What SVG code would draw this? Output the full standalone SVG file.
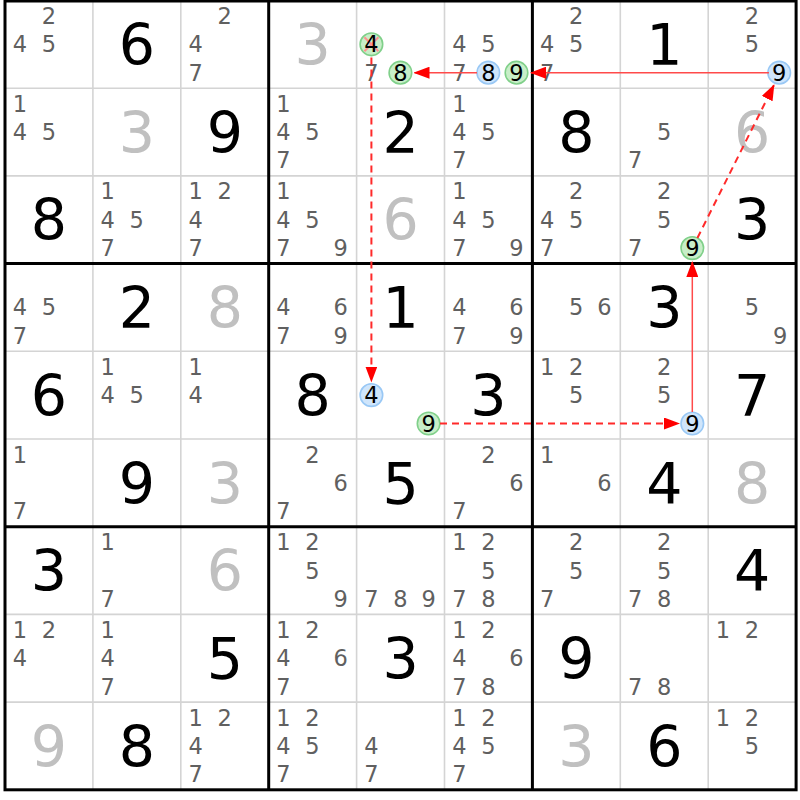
<svg xmlns="http://www.w3.org/2000/svg" width="800" height="800" viewBox="0 0 800 800">
<defs>
<style>
text{font-family:"DejaVu Sans","Verdana",sans-serif;text-anchor:middle}
.k{font-size:22.5px;fill:#606060}
.h{font-size:22.5px;fill:#000}
.g{font-size:57px;fill:#000}
.s{font-size:57px;fill:#c0c0c0}
.cg{fill:#c8eec8;stroke:#80d08a;stroke-width:1.6}
.cb{fill:#cfe5fb;stroke:#99c8f5;stroke-width:1.6}
.thin{stroke:#d4d4d4;stroke-width:1.6}
.thick{stroke:#000;stroke-width:3;fill:none}
.sol{stroke:#ff4a4a;stroke-width:1.5;fill:none}
.dsh{stroke:#ff2a2a;stroke-width:2;fill:none;stroke-dasharray:7,5}
</style>
<marker id="ah" viewBox="0 0 16 12" refX="15" refY="6" markerWidth="16" markerHeight="12" markerUnits="userSpaceOnUse" orient="auto">
<path d="M0,0 L16,6 L0,12 z" fill="#ff0000"/>
</marker>
</defs>
<rect x="0" y="0" width="800" height="800" fill="#fff"/>
<g id="grid">
<path class="thin" d="M92.9,0.5V789.8M180.8,0.5V789.8M356.6,0.5V789.8M444.5,0.5V789.8M620.3,0.5V789.8M708.2,0.5V789.8M5,88.2H796.1M5,175.9H796.1M5,351.3H796.1M5,439H796.1M5,614.4H796.1M5,702.1H796.1"/>
<path class="thick" d="M268.7,0.5V789.8M532.4,0.5V789.8M5,263.6H796.1M5,526.7H796.1"/>
<rect class="thick" x="5" y="1" width="791.1" height="788.8"/>
</g>
<!-- row 0 -->
<g id="r0c0" transform="translate(5,0.5)"><text class="k" x="43.8" y="23.6">2</text><text class="k" x="14.8" y="51.9">4</text><text class="k" x="43.8" y="51.9">5</text></g>
<g id="r0c1" transform="translate(92.9,0.5)"><text class="g" x="44" y="64.6">6</text></g>
<g id="r0c2" transform="translate(180.8,0.5)"><text class="k" x="43.8" y="23.6">2</text><text class="k" x="14.8" y="51.9">4</text><text class="k" x="14.8" y="80.3">7</text></g>
<g id="r0c3" transform="translate(268.7,0.5)"><text class="s" x="44" y="64.6">3</text></g>
<g id="r0c4" transform="translate(356.6,0.5)"><circle class="cg" cx="14.8" cy="43.8" r="11.3"/><path d="M7.8,36.8L21.8,50.8M21.8,36.8L7.8,50.8" stroke="#ff9090" stroke-width="2"/><text class="h" x="14.8" y="51.9">4</text><text class="k" x="14.8" y="80.3">7</text><circle class="cg" cx="43.8" cy="72.2" r="11.3"/><text class="h" x="43.8" y="80.3">8</text></g>
<g id="r0c5" transform="translate(444.5,0.5)"><text class="k" x="14.8" y="51.9">4</text><text class="k" x="43.8" y="51.9">5</text><text class="k" x="14.8" y="80.3">7</text><circle class="cb" cx="43.8" cy="72.2" r="11.3"/><text class="h" x="43.8" y="80.3">8</text><circle class="cg" cx="72" cy="72.2" r="11.3"/><text class="h" x="72" y="80.3">9</text></g>
<g id="r0c6" transform="translate(532.4,0.5)"><text class="k" x="43.8" y="23.6">2</text><text class="k" x="14.8" y="51.9">4</text><text class="k" x="43.8" y="51.9">5</text><text class="k" x="14.8" y="80.3">7</text></g>
<g id="r0c7" transform="translate(620.3,0.5)"><text class="g" x="44" y="64.6">1</text></g>
<g id="r0c8" transform="translate(708.2,0.5)"><text class="k" x="43.8" y="23.6">2</text><text class="k" x="43.8" y="51.9">5</text><circle class="cb" cx="71" cy="72.2" r="11.3"/><text class="h" x="71" y="80.3">9</text></g>
<!-- row 1 -->
<g id="r1c0" transform="translate(5,88.2)"><text class="k" x="14.8" y="23.6">1</text><text class="k" x="14.8" y="51.9">4</text><text class="k" x="43.8" y="51.9">5</text></g>
<g id="r1c1" transform="translate(92.9,88.2)"><text class="s" x="44" y="64.6">3</text></g>
<g id="r1c2" transform="translate(180.8,88.2)"><text class="g" x="44" y="64.6">9</text></g>
<g id="r1c3" transform="translate(268.7,88.2)"><text class="k" x="14.8" y="23.6">1</text><text class="k" x="14.8" y="51.9">4</text><text class="k" x="43.8" y="51.9">5</text><text class="k" x="14.8" y="80.3">7</text></g>
<g id="r1c4" transform="translate(356.6,88.2)"><text class="g" x="44" y="64.6">2</text></g>
<g id="r1c5" transform="translate(444.5,88.2)"><text class="k" x="14.8" y="23.6">1</text><text class="k" x="14.8" y="51.9">4</text><text class="k" x="43.8" y="51.9">5</text><text class="k" x="14.8" y="80.3">7</text></g>
<g id="r1c6" transform="translate(532.4,88.2)"><text class="g" x="44" y="64.6">8</text></g>
<g id="r1c7" transform="translate(620.3,88.2)"><text class="k" x="43.8" y="51.9">5</text><text class="k" x="14.8" y="80.3">7</text></g>
<g id="r1c8" transform="translate(708.2,88.2)"><text class="s" x="44" y="64.6">6</text></g>
<!-- row 2 -->
<g id="r2c0" transform="translate(5,175.9)"><text class="g" x="44" y="64.6">8</text></g>
<g id="r2c1" transform="translate(92.9,175.9)"><text class="k" x="14.8" y="23.6">1</text><text class="k" x="14.8" y="51.9">4</text><text class="k" x="43.8" y="51.9">5</text><text class="k" x="14.8" y="80.3">7</text></g>
<g id="r2c2" transform="translate(180.8,175.9)"><text class="k" x="14.8" y="23.6">1</text><text class="k" x="43.8" y="23.6">2</text><text class="k" x="14.8" y="51.9">4</text><text class="k" x="14.8" y="80.3">7</text></g>
<g id="r2c3" transform="translate(268.7,175.9)"><text class="k" x="14.8" y="23.6">1</text><text class="k" x="14.8" y="51.9">4</text><text class="k" x="43.8" y="51.9">5</text><text class="k" x="14.8" y="80.3">7</text><text class="k" x="72" y="80.3">9</text></g>
<g id="r2c4" transform="translate(356.6,175.9)"><text class="s" x="44" y="64.6">6</text></g>
<g id="r2c5" transform="translate(444.5,175.9)"><text class="k" x="14.8" y="23.6">1</text><text class="k" x="14.8" y="51.9">4</text><text class="k" x="43.8" y="51.9">5</text><text class="k" x="14.8" y="80.3">7</text><text class="k" x="72" y="80.3">9</text></g>
<g id="r2c6" transform="translate(532.4,175.9)"><text class="k" x="43.8" y="23.6">2</text><text class="k" x="14.8" y="51.9">4</text><text class="k" x="43.8" y="51.9">5</text><text class="k" x="14.8" y="80.3">7</text></g>
<g id="r2c7" transform="translate(620.3,175.9)"><text class="k" x="43.8" y="23.6">2</text><text class="k" x="43.8" y="51.9">5</text><text class="k" x="14.8" y="80.3">7</text><circle class="cg" cx="72" cy="72.2" r="11.3"/><text class="h" x="72" y="80.3">9</text></g>
<g id="r2c8" transform="translate(708.2,175.9)"><text class="g" x="44" y="64.6">3</text></g>
<!-- row 3 -->
<g id="r3c0" transform="translate(5,263.6)"><text class="k" x="14.8" y="51.9">4</text><text class="k" x="43.8" y="51.9">5</text><text class="k" x="14.8" y="80.3">7</text></g>
<g id="r3c1" transform="translate(92.9,263.6)"><text class="g" x="44" y="64.6">2</text></g>
<g id="r3c2" transform="translate(180.8,263.6)"><text class="s" x="44" y="64.6">8</text></g>
<g id="r3c3" transform="translate(268.7,263.6)"><text class="k" x="14.8" y="51.9">4</text><text class="k" x="72" y="51.9">6</text><text class="k" x="14.8" y="80.3">7</text><text class="k" x="72" y="80.3">9</text></g>
<g id="r3c4" transform="translate(356.6,263.6)"><text class="g" x="44" y="64.6">1</text></g>
<g id="r3c5" transform="translate(444.5,263.6)"><text class="k" x="14.8" y="51.9">4</text><text class="k" x="72" y="51.9">6</text><text class="k" x="14.8" y="80.3">7</text><text class="k" x="72" y="80.3">9</text></g>
<g id="r3c6" transform="translate(532.4,263.6)"><text class="k" x="43.8" y="51.9">5</text><text class="k" x="72" y="51.9">6</text></g>
<g id="r3c7" transform="translate(620.3,263.6)"><text class="g" x="44" y="64.6">3</text></g>
<g id="r3c8" transform="translate(708.2,263.6)"><text class="k" x="43.8" y="51.9">5</text><text class="k" x="72" y="80.3">9</text></g>
<!-- row 4 -->
<g id="r4c0" transform="translate(5,351.3)"><text class="g" x="44" y="64.6">6</text></g>
<g id="r4c1" transform="translate(92.9,351.3)"><text class="k" x="14.8" y="23.6">1</text><text class="k" x="14.8" y="51.9">4</text><text class="k" x="43.8" y="51.9">5</text></g>
<g id="r4c2" transform="translate(180.8,351.3)"><text class="k" x="14.8" y="23.6">1</text><text class="k" x="14.8" y="51.9">4</text></g>
<g id="r4c3" transform="translate(268.7,351.3)"><text class="g" x="44" y="64.6">8</text></g>
<g id="r4c4" transform="translate(356.6,351.3)"><circle class="cb" cx="14.8" cy="43.8" r="11.3"/><text class="h" x="14.8" y="51.9">4</text><circle class="cg" cx="72" cy="72.2" r="11.3"/><text class="h" x="72" y="80.3">9</text></g>
<g id="r4c5" transform="translate(444.5,351.3)"><text class="g" x="44" y="64.6">3</text></g>
<g id="r4c6" transform="translate(532.4,351.3)"><text class="k" x="14.8" y="23.6">1</text><text class="k" x="43.8" y="23.6">2</text><text class="k" x="43.8" y="51.9">5</text></g>
<g id="r4c7" transform="translate(620.3,351.3)"><text class="k" x="43.8" y="23.6">2</text><text class="k" x="43.8" y="51.9">5</text><circle class="cb" cx="72" cy="72.2" r="11.3"/><text class="h" x="72" y="80.3">9</text></g>
<g id="r4c8" transform="translate(708.2,351.3)"><text class="g" x="44" y="64.6">7</text></g>
<!-- row 5 -->
<g id="r5c0" transform="translate(5,439)"><text class="k" x="14.8" y="23.6">1</text><text class="k" x="14.8" y="80.3">7</text></g>
<g id="r5c1" transform="translate(92.9,439)"><text class="g" x="44" y="64.6">9</text></g>
<g id="r5c2" transform="translate(180.8,439)"><text class="s" x="44" y="64.6">3</text></g>
<g id="r5c3" transform="translate(268.7,439)"><text class="k" x="43.8" y="23.6">2</text><text class="k" x="72" y="51.9">6</text><text class="k" x="14.8" y="80.3">7</text></g>
<g id="r5c4" transform="translate(356.6,439)"><text class="g" x="44" y="64.6">5</text></g>
<g id="r5c5" transform="translate(444.5,439)"><text class="k" x="43.8" y="23.6">2</text><text class="k" x="72" y="51.9">6</text><text class="k" x="14.8" y="80.3">7</text></g>
<g id="r5c6" transform="translate(532.4,439)"><text class="k" x="14.8" y="23.6">1</text><text class="k" x="72" y="51.9">6</text></g>
<g id="r5c7" transform="translate(620.3,439)"><text class="g" x="44" y="64.6">4</text></g>
<g id="r5c8" transform="translate(708.2,439)"><text class="s" x="44" y="64.6">8</text></g>
<!-- row 6 -->
<g id="r6c0" transform="translate(5,526.7)"><text class="g" x="44" y="64.6">3</text></g>
<g id="r6c1" transform="translate(92.9,526.7)"><text class="k" x="14.8" y="23.6">1</text><text class="k" x="14.8" y="80.3">7</text></g>
<g id="r6c2" transform="translate(180.8,526.7)"><text class="s" x="44" y="64.6">6</text></g>
<g id="r6c3" transform="translate(268.7,526.7)"><text class="k" x="14.8" y="23.6">1</text><text class="k" x="43.8" y="23.6">2</text><text class="k" x="43.8" y="51.9">5</text><text class="k" x="72" y="80.3">9</text></g>
<g id="r6c4" transform="translate(356.6,526.7)"><text class="k" x="14.8" y="80.3">7</text><text class="k" x="43.8" y="80.3">8</text><text class="k" x="72" y="80.3">9</text></g>
<g id="r6c5" transform="translate(444.5,526.7)"><text class="k" x="14.8" y="23.6">1</text><text class="k" x="43.8" y="23.6">2</text><text class="k" x="43.8" y="51.9">5</text><text class="k" x="14.8" y="80.3">7</text><text class="k" x="43.8" y="80.3">8</text></g>
<g id="r6c6" transform="translate(532.4,526.7)"><text class="k" x="43.8" y="23.6">2</text><text class="k" x="43.8" y="51.9">5</text><text class="k" x="14.8" y="80.3">7</text></g>
<g id="r6c7" transform="translate(620.3,526.7)"><text class="k" x="43.8" y="23.6">2</text><text class="k" x="43.8" y="51.9">5</text><text class="k" x="14.8" y="80.3">7</text><text class="k" x="43.8" y="80.3">8</text></g>
<g id="r6c8" transform="translate(708.2,526.7)"><text class="g" x="44" y="64.6">4</text></g>
<!-- row 7 -->
<g id="r7c0" transform="translate(5,614.4)"><text class="k" x="14.8" y="23.6">1</text><text class="k" x="43.8" y="23.6">2</text><text class="k" x="14.8" y="51.9">4</text></g>
<g id="r7c1" transform="translate(92.9,614.4)"><text class="k" x="14.8" y="23.6">1</text><text class="k" x="14.8" y="51.9">4</text><text class="k" x="14.8" y="80.3">7</text></g>
<g id="r7c2" transform="translate(180.8,614.4)"><text class="g" x="44" y="64.6">5</text></g>
<g id="r7c3" transform="translate(268.7,614.4)"><text class="k" x="14.8" y="23.6">1</text><text class="k" x="43.8" y="23.6">2</text><text class="k" x="14.8" y="51.9">4</text><text class="k" x="72" y="51.9">6</text><text class="k" x="14.8" y="80.3">7</text></g>
<g id="r7c4" transform="translate(356.6,614.4)"><text class="g" x="44" y="64.6">3</text></g>
<g id="r7c5" transform="translate(444.5,614.4)"><text class="k" x="14.8" y="23.6">1</text><text class="k" x="43.8" y="23.6">2</text><text class="k" x="14.8" y="51.9">4</text><text class="k" x="72" y="51.9">6</text><text class="k" x="14.8" y="80.3">7</text><text class="k" x="43.8" y="80.3">8</text></g>
<g id="r7c6" transform="translate(532.4,614.4)"><text class="g" x="44" y="64.6">9</text></g>
<g id="r7c7" transform="translate(620.3,614.4)"><text class="k" x="14.8" y="80.3">7</text><text class="k" x="43.8" y="80.3">8</text></g>
<g id="r7c8" transform="translate(708.2,614.4)"><text class="k" x="14.8" y="23.6">1</text><text class="k" x="43.8" y="23.6">2</text></g>
<!-- row 8 -->
<g id="r8c0" transform="translate(5,702.1)"><text class="s" x="44" y="64.6">9</text></g>
<g id="r8c1" transform="translate(92.9,702.1)"><text class="g" x="44" y="64.6">8</text></g>
<g id="r8c2" transform="translate(180.8,702.1)"><text class="k" x="14.8" y="23.6">1</text><text class="k" x="43.8" y="23.6">2</text><text class="k" x="14.8" y="51.9">4</text><text class="k" x="14.8" y="80.3">7</text></g>
<g id="r8c3" transform="translate(268.7,702.1)"><text class="k" x="14.8" y="23.6">1</text><text class="k" x="43.8" y="23.6">2</text><text class="k" x="14.8" y="51.9">4</text><text class="k" x="43.8" y="51.9">5</text><text class="k" x="14.8" y="80.3">7</text></g>
<g id="r8c4" transform="translate(356.6,702.1)"><text class="k" x="14.8" y="51.9">4</text><text class="k" x="14.8" y="80.3">7</text></g>
<g id="r8c5" transform="translate(444.5,702.1)"><text class="k" x="14.8" y="23.6">1</text><text class="k" x="43.8" y="23.6">2</text><text class="k" x="14.8" y="51.9">4</text><text class="k" x="43.8" y="51.9">5</text><text class="k" x="14.8" y="80.3">7</text></g>
<g id="r8c6" transform="translate(532.4,702.1)"><text class="s" x="44" y="64.6">3</text></g>
<g id="r8c7" transform="translate(620.3,702.1)"><text class="g" x="44" y="64.6">6</text></g>
<g id="r8c8" transform="translate(708.2,702.1)"><text class="k" x="14.8" y="23.6">1</text><text class="k" x="43.8" y="23.6">2</text><text class="k" x="43.8" y="51.9">5</text></g>
<g id="connectors">
<path class="dsh" d="M371.4,57.5L371.4,381.5" marker-end="url(#ah)"/>
<path class="sol" d="M477,72.7L414.5,72.7" marker-end="url(#ah)"/>
<path class="sol" d="M768.9,72.7L531,72.7" marker-end="url(#ah)"/>
<path class="dsh" d="M697.4,238L773.9,85.2" marker-end="url(#ah)"/>
<path class="sol" d="M692.3,412L692.3,262" marker-end="url(#ah)"/>
<path class="dsh" d="M440,423.5L679,423.5" marker-end="url(#ah)"/>
</g>
</svg>
